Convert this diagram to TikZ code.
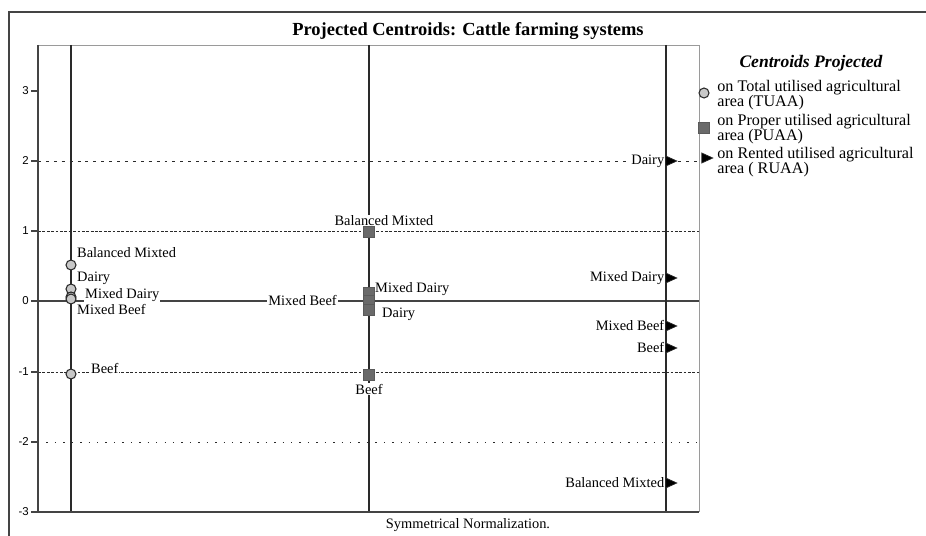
\documentclass[tikz,border=0pt]{standalone}
\usepackage{fontspec}
\setmainfont{Liberation Serif}
\setsansfont{Liberation Sans}
\usepackage{tikz}
\usetikzlibrary{shapes.geometric,positioning}
\definecolor{axisgray}{HTML}{444444}
\definecolor{linegray}{HTML}{2A2A2A}
\definecolor{framegray}{HTML}{9A9A9A}
\definecolor{tuaafill}{HTML}{C8C8C8}
\definecolor{puaafill}{HTML}{6A6A6A}
\tikzset{tuaa/.style={circle,fill=tuaafill,draw=linegray,line width=0.6pt,minimum size=2mm,inner sep=0mm}}
\tikzset{puaa/.style={rectangle,fill=puaafill,draw=puaafill!85!black,minimum size=2.1mm,inner sep=0mm}}
\tikzset{ruaa/.style={isosceles triangle,isosceles triangle stretches,fill=black,draw=linegray,minimum height=2.2mm,minimum width=2mm,inner sep=0mm}}
\tikzset{catlabel/.style={font=\fontsize{8.2}{9}\selectfont,fill=white,inner sep=0.5pt}}
\tikzset{ticklabel/.style={font=\sffamily\fontsize{6.5}{7}\selectfont,anchor=east,inner sep=0.5pt}}
\tikzset{legendtext/.style={align=left,anchor=west,font=\fontsize{9.2}{8.4}\selectfont,inner sep=0pt}}
\tikzset{gridline/.style={linegray,line width=0.5pt}}

\begin{document}
\begin{tikzpicture}[x=0.02cm,y=-0.02cm]
    \useasboundingbox (0,0) rectangle (926,536);
    % outer frame
    \draw[axisgray,line width=0.8pt] (9,536) -- (9,12) -- (926,12);
    \node[font=\bfseries\fontsize{10.5}{12}\selectfont] (title) at (468,31) {Projected Centroids: Cattle farming systems};

    % plot area
    \draw[framegray,line width=0.5pt] (38,45) -- (699,45) -- (699,512);
    \draw[gridline,dash pattern=on 1.7pt off 2.8pt] (38,161) -- (699,161);
    \draw[gridline,dash pattern=on 1.6pt off 0.9pt] (38,231) -- (699,231);
    \draw[axisgray,line width=0.8pt] (38,301) -- (699,301);
    \draw[gridline,dash pattern=on 1.6pt off 0.9pt] (38,372) -- (699,372);
    \draw[gridline,dash pattern=on 0.8pt off 4pt] (38,442) -- (699,442);
    \draw[linegray,line width=0.9pt] (71,45) -- (71,512);
    \draw[linegray,line width=0.9pt] (369,45) -- (369,512);
    \draw[linegray,line width=0.9pt] (666,45) -- (666,512);
    \draw[axisgray,line width=1.3pt] (38,45) -- (38,512) -- (699,512);

    % ticks
    \draw[axisgray,line width=0.8pt] (31,91) -- (38,91);
    \draw[axisgray,line width=0.8pt] (31,161) -- (38,161);
    \draw[axisgray,line width=0.8pt] (31,231) -- (38,231);
    \draw[axisgray,line width=0.8pt] (31,301) -- (38,301);
    \draw[axisgray,line width=0.8pt] (31,372) -- (38,372);
    \draw[axisgray,line width=0.8pt] (31,442) -- (38,442);
    \draw[axisgray,line width=0.8pt] (31,512) -- (38,512);
    \node[ticklabel] (y3)  at (30,91)  {3};
    \node[ticklabel] (y2)  at (30,161) {2};
    \node[ticklabel] (y1)  at (30,231) {1};
    \node[ticklabel] (y0)  at (30,301) {0};
    \node[ticklabel] (ym1) at (30,372) {-1};
    \node[ticklabel] (ym2) at (30,442) {-2};
    \node[ticklabel] (ym3) at (30,512) {-3};

    % labels of the centroids
    \node[catlabel,anchor=west] at (76,253) {Balanced Mixted};
    \node[catlabel,anchor=west] at (76,278) {Dairy};
    \node[catlabel,anchor=west] at (84,295) {Mixed Dairy};
    \node[catlabel,anchor=west] at (76,310) {Mixed Beef};
    \node[catlabel,anchor=west] at (90,369) {Beef};

    \node[catlabel] at (384,221) {Balanced Mixted};
    \node[catlabel,anchor=west] at (374,289) {Mixed Dairy};
    \node[catlabel,anchor=east] at (338,301) {Mixed Beef};
    \node[catlabel,anchor=west] at (381,314) {Dairy};

    % centroids on TUAA
    \node[tuaa] (t_bm)    at (71,265) {};
    \node[tuaa] (t_dairy) at (71,289) {};
    \node[tuaa] (t_md)    at (71,297) {};
    \node[tuaa] (t_mb)    at (71,299) {};
    \node[tuaa] (t_beef)  at (71,374) {};

    % centroids on PUAA
    \node[puaa] (p_bm)    at (369,232) {};
    \node[puaa] (p_md)    at (369,293) {};
    \node[puaa] (p_mb)    at (369,301) {};
    \node[puaa] (p_dairy) at (369,310) {};
    \node[puaa] (p_beef)  at (369,375) {};
    \node[below = 0.5mm of p_beef,catlabel] {Beef};

    % centroids on RUAA
    \node[ruaa] (r_dairy) at (669,161) {};
    \node[ruaa] (r_md)    at (669,278) {};
    \node[ruaa] (r_mb)    at (669,326) {};
    \node[ruaa] (r_beef)  at (669,348) {};
    \node[ruaa] (r_bm)    at (669,483) {};
    \node[left = 0mm of r_dairy,catlabel] {Dairy};
    \node[left = 0mm of r_md,catlabel]    {Mixed Dairy};
    \node[left = 0mm of r_mb,catlabel]    {Mixed Beef};
    \node[left = 0mm of r_beef,catlabel]  {Beef};
    \node[left = 0mm of r_bm,catlabel]    {Balanced Mixted};

    \node[font=\fontsize{8.2}{9}\selectfont] (norm) at (468,525) {Symmetrical Normalization.};

    % legend
    \node[font=\bfseries\itshape\fontsize{10}{12}\selectfont] (legtitle) at (811,63) {Centroids Projected};
    \node[tuaa] (leg_t) at (704,93)  {};
    \node[puaa] (leg_p) at (704,128) {};
    \node[ruaa] (leg_r) at (705,158) {};
    \node[legendtext] at (717,95)  {on Total utilised agricultural\\area (TUAA)};
    \node[legendtext] at (717,129) {on Proper utilised agricultural\\area (PUAA)};
    \node[legendtext] at (717,162) {on Rented utilised agricultural\\area ( RUAA)};
\end{tikzpicture}
\end{document}
